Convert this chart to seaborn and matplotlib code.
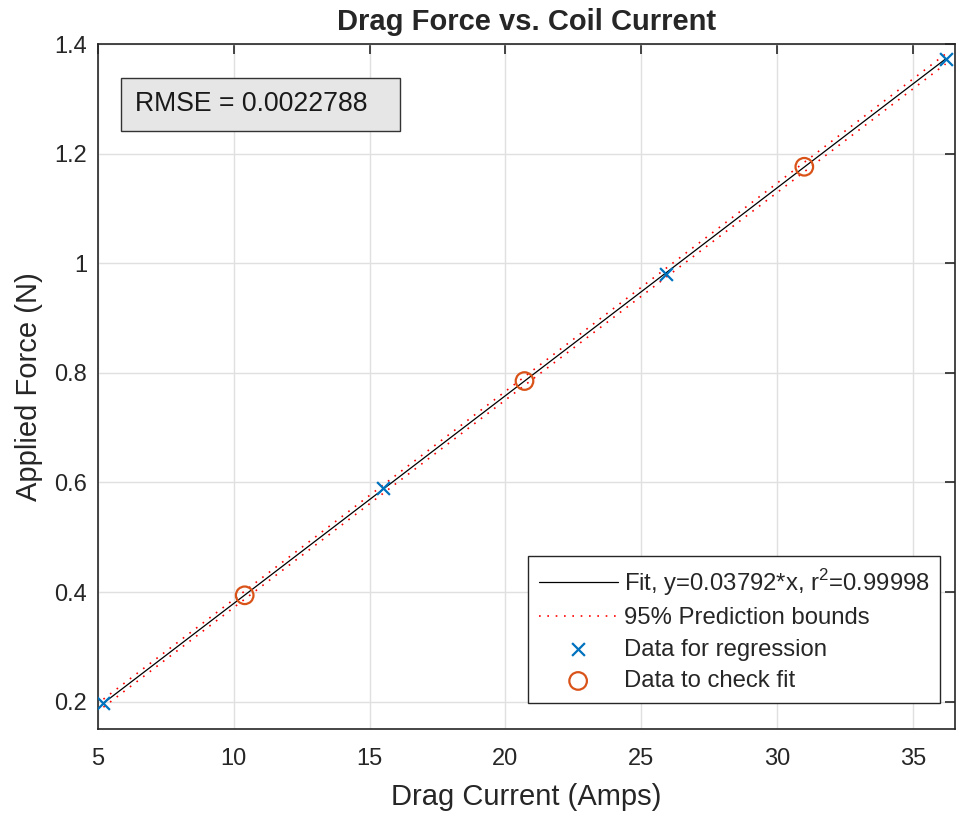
import numpy as np
import pandas as pd
import seaborn as sns
import matplotlib.pyplot as plt
from matplotlib.patches import Rectangle

# values
reg_current = [5.2, 15.5, 25.9, 36.2]
reg_force = [0.197, 0.589, 0.981, 1.373]
check_current = [10.4, 20.7, 31.0]
check_force = [0.394, 0.785, 1.176]
slope = 0.03792
r2 = 0.99998
rmse = 0.0022788
t_95 = 3.182  # t(0.975, df=3)

sns.set_style("whitegrid")
plt.rcParams['font.family'] = ['Liberation Sans', 'DejaVu Sans']
plt.rcParams['mathtext.fontset'] = 'custom'
plt.rcParams['mathtext.rm'] = 'Liberation Sans'

# fit line and prediction bounds
x_fit = np.linspace(min(reg_current), max(reg_current), 100)
sxx = np.sum(np.array(reg_current) ** 2)
half = t_95 * rmse * np.sqrt(1 + x_fit ** 2 / sxx)
fit = pd.DataFrame({"x": x_fit, "y": slope * x_fit,
                    "lo": slope * x_fit - half, "hi": slope * x_fit + half})

fig = plt.figure(figsize=(9.57, 8.15), dpi=100)
ax = fig.add_axes([0.1024, 0.1055, 0.8956, 0.8405])

sns.lineplot(data=fit, x="x", y="y", color="black", lw=0.9, ax=ax,
             label=r"Fit, y=0.03792*x, r$^2$=0.99998")
sns.lineplot(data=fit, x="x", y="hi", color="red", lw=1.2, ls=(0, (1, 4)), ax=ax,
             label="95% Prediction bounds")
sns.lineplot(data=fit, x="x", y="lo", color="red", lw=1.2, ls=(0, (1, 4)), ax=ax)
sns.scatterplot(x=reg_current, y=reg_force, marker="x", color="#0072BD", s=85,
                linewidth=1.6, ax=ax, label="Data for regression", zorder=5)
sns.scatterplot(x=check_current, y=check_force, marker="o", facecolor="none",
                edgecolor="#D95319", s=160, linewidth=1.6, ax=ax,
                label="Data to check fit", zorder=5)

ax.set_xlim(5, 36.55)
ax.set_ylim(0.15, 1.4)
ax.set_xticks([5, 10, 15, 20, 25, 30, 35])
ax.set_yticks([0.2, 0.4, 0.6, 0.8, 1.0, 1.2, 1.4])
ax.set_yticklabels(["0.2", "0.4", "0.6", "0.8", "1", "1.2", "1.4"])
ax.grid(True, color="#e0e0e0", lw=1.0)
for s in ax.spines.values():
    s.set_color("#262626")
    s.set_linewidth(1.2)
    s.set_visible(True)
ax.tick_params(direction="in", length=7, width=1.2, colors="#262626",
               labelsize=17, top=True, right=True)
ax.tick_params(axis="x", pad=14)
ax.tick_params(axis="y", pad=8)

ax.set_xlabel("Drag Current (Amps)", fontsize=21, color="#262626", labelpad=9)
ax.set_ylabel("Applied Force (N)", fontsize=21, color="#262626", labelpad=8)
ax.set_title("Drag Force vs. Coil Current", fontsize=21, fontweight="bold", pad=10)

ax.add_patch(Rectangle((0.0268, 0.873), 0.3256, 0.0774, transform=ax.transAxes,
                       fc="#e6e6e6", ec="#333333", lw=1.0, zorder=6))
ax.text(0.043, 0.912, "RMSE = 0.0022788", transform=ax.transAxes, fontsize=19.2,
        va="center", ha="left", color="#1a1a1a", zorder=7)

leg = ax.legend(loc="lower right", bbox_to_anchor=(0.9825, 0.038), borderaxespad=0,
                fontsize=17.2, frameon=True, fancybox=False, edgecolor="#262626",
                framealpha=1, handlelength=3.3, handletextpad=0.25,
                borderpad=0.45, labelspacing=0.4)
leg.get_frame().set_linewidth(1.0)

fig.savefig("out.png", dpi=100)
